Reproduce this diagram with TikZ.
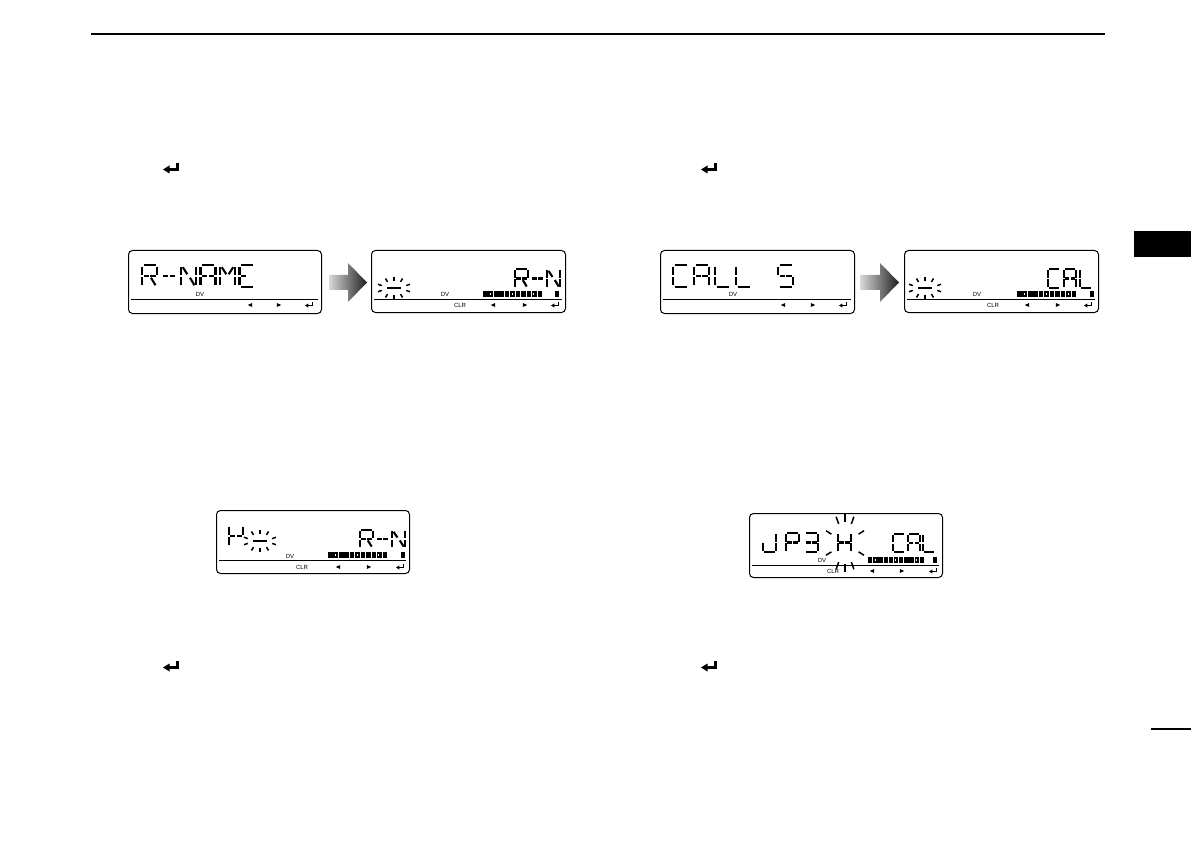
\documentclass[tikz,border=0pt]{standalone}
\usepackage{fontspec}
\setsansfont{Liberation Sans}
\def\lcdsega{(0.1,0)--(0.9,0)}
\def\lcdsegb{(1,0.07)--(1,0.45)}
\def\lcdsegc{(1,0.55)--(1,0.93)}
\def\lcdsegd{(0.1,1)--(0.9,1)}
\def\lcdsege{(0,0.55)--(0,0.93)}
\def\lcdsegf{(0,0.07)--(0,0.45)}
\def\lcdsegg{(0.1,0.5)--(0.44,0.5)}
\def\lcdsegG{(0.56,0.5)--(0.9,0.5)}
\def\lcdsegh{(0.12,0.1)--(0.42,0.42)}
\def\lcdsegi{(0.5,0.07)--(0.5,0.45)}
\def\lcdsegj{(0.88,0.1)--(0.58,0.42)}
\def\lcdsegk{(0.42,0.58)--(0.12,0.9)}
\def\lcdsegl{(0.5,0.55)--(0.5,0.93)}
\def\lcdsegm{(0.6,0.58)--(0.9,0.92)}
\newcommand\lcdch[5]{\begin{scope}[shift={(#1,#2)},xscale=#3,yscale=#4]
  \foreach \s in {#5}{\edef\lcdtmp{\noexpand\draw[segline] \csname lcdseg\s\endcsname;}\lcdtmp}
  \end{scope}}
\newcommand\lcdmeter[4]{%
  \pgfmathsetmacro\mtrpitch{(#2-#1)/11}
  \foreach \q in {0,...,10}{\fill ({#1+\q*\mtrpitch},{#3-2.6}) rectangle ({#1+\q*\mtrpitch+\mtrpitch-0.8},{#3+2.6});}
  \foreach \q in {1,5,9}{\fill[white] ({#1+\q*\mtrpitch+1.4},{#3-1.2}) rectangle ({#1+\q*\mtrpitch+2.4},{#3+1.2});}
  \fill ({#4-2.4},{#3-2.6}) rectangle ({#4+2.4},{#3+2.6});}
\newcommand\blinkrays[7]{%
  \foreach \t in {#7}{\draw[ray] ({#1+#3*cos(\t)},{#2-#4*sin(\t)}) -- ({#1+#5*cos(\t)},{#2-#6*sin(\t)});}}
\tikzset{
  segline/.style={line width=2.1pt},
  lcdbox/.style={draw, line width=1pt, rounded corners=4pt, inner sep=0pt, anchor=north west},
  lcdrule/.style={line width=1pt},
  tinytxt/.style={font=\sffamily\fontsize{6}{7}\selectfont, inner sep=0pt},
  ray/.style={line width=1.5pt},
  blockarrow/.style={left color=black!15, right color=black!88},
  enter/.pic={\fill (0,0)--(6.5,-4)--(6.5,4)--cycle; \fill (5.5,-1.6) rectangle (16,1.6); \fill (13,1.6) rectangle (16.2,-6.5);},
  tril/.pic={\fill (-2.2,0)--(2.2,-2)--(2.2,2)--cycle;},
  trir/.pic={\fill (2.2,0)--(-2.2,-2)--(-2.2,2)--cycle;},
}
\begin{document}
\begin{tikzpicture}[x=1pt,y=-1pt]
\useasboundingbox (0,0) rectangle (1191,842);
% page furniture
\draw[line width=2.2pt] (91,34) -- (1105,34);
\fill (1134,231) rectangle (1191,257);
\draw[line width=1.8pt] (1151,729) -- (1191,729);
% enter icons in the text
\pic at (163,169.5) {enter};
\pic at (701,169.5) {enter};
\pic at (163,667.5) {enter};
\pic at (701,667.5) {enter};

% ---------- Box A ----------
\node[lcdbox, minimum width=193pt, minimum height=63pt] (boxA) at (128,250) {};
\draw[lcdrule] (131,300) -- (318,300);
\lcdch{142}{265}{15}{22}{a,b,f,e,g,G,m}
\lcdch{161.5}{265}{15}{22}{g,G}
\lcdch{181}{265}{15}{22}{f,e,b,c,h,m}
\lcdch{200.5}{265}{15}{22}{a,b,c,e,f,g,G}
\lcdch{220}{265}{15}{22}{f,e,b,c,h,j}
\lcdch{239.5}{265}{15}{22}{a,d,e,f,g}
\node[tinytxt] (dvA) at (200,294) {DV};
\pic at (250,305) {tril};
\pic at (279,305) {trir};
\pic[scale=0.5] at (305,305.5) {enter};
% arrow A->B
\shade[blockarrow] (329,275) -- (348,275) -- (348,263) -- (367,282.5) -- (348,302) -- (348,290) -- (329,290) -- cycle;

% ---------- Box B ----------
\node[lcdbox, minimum width=194pt, minimum height=62pt] (boxB) at (371,250) {};
\draw[lcdrule] (374,300) -- (562,300);
\draw[segline] (387,288) -- (401,288);
\blinkrays{394}{288}{13}{7}{17}{11}{90,60,120,20,160,-20,-160,-60,-120,-90}
\lcdch{515}{269}{13}{19}{a,b,f,e,g,G,m}
\lcdch{531}{269}{13}{19}{g,G}
\lcdch{547}{269}{13}{19}{f,e,b,c,h,m}
\node[tinytxt] (dvB) at (445,294) {DV};
\lcdmeter{483}{543}{294}{557}
\node[tinytxt] (clrB) at (460,305) {CLR};
\pic at (493,305) {tril};
\pic at (525,305) {trir};
\pic[scale=0.5] at (551,305.5) {enter};

% ---------- Box C ----------
\node[lcdbox, minimum width=194pt, minimum height=63pt] (boxC) at (660,250) {};
\draw[lcdrule] (663,300) -- (851,300);
\lcdch{673}{265}{15}{22}{a,d,e,f}
\lcdch{694}{265}{15}{22}{a,b,c,e,f,g,G}
\lcdch{715}{265}{15}{22}{e,f,d}
\lcdch{736}{265}{15}{22}{e,f,d}
\lcdch{778}{265}{15}{22}{a,f,g,G,c,d}
\node[tinytxt] (dvC) at (733,294) {DV};
\pic at (783,305) {tril};
\pic at (813,305) {trir};
\pic[scale=0.5] at (839,305.5) {enter};
% arrow C->D
\shade[blockarrow] (860,275) -- (880,275) -- (880,263) -- (899,282.5) -- (880,302) -- (880,290) -- (860,290) -- cycle;

% ---------- Box D ----------
\node[lcdbox, minimum width=194pt, minimum height=62pt] (boxD) at (904,250) {};
\draw[lcdrule] (907,300) -- (1095,300);
\draw[segline] (918,288) -- (932,288);
\blinkrays{925}{288}{13}{7}{17}{11}{90,60,120,20,160,-20,-160,-60,-120,-90}
\lcdch{1048}{269}{12}{19}{a,d,e,f}
\lcdch{1064}{269}{12}{19}{a,b,c,e,f,g,G}
\lcdch{1080}{269}{12}{19}{e,f,d}
\node[tinytxt] (dvD) at (977,294) {DV};
\lcdmeter{1017}{1077}{294}{1092}
\node[tinytxt] (clrD) at (993,305) {CLR};
\pic at (1027,305) {tril};
\pic at (1058,305) {trir};
\pic[scale=0.5] at (1084,305.5) {enter};

% ---------- Box E ----------
\node[lcdbox, minimum width=193pt, minimum height=63pt] (boxE) at (216,510) {};
\draw[lcdrule] (219,560) -- (406,560);
\lcdch{229}{526}{14}{20}{f,e,g,G,b}
\draw[segline] (253,541) -- (267,541);
\blinkrays{260}{541}{13}{7}{17}{11}{90,60,120,20,160,-20,-160,-60,-120,-90}
\lcdch{360}{530}{13}{18}{a,b,f,e,g,G,m}
\lcdch{376}{530}{13}{18}{g,G}
\lcdch{392}{530}{13}{18}{f,e,b,c,h,m}
\node[tinytxt] (dvE) at (290,556) {DV};
\lcdmeter{328}{388}{555}{403}
\node[tinytxt] (clrE) at (302,567) {CLR};
\pic at (338,567) {tril};
\pic at (369,567) {trir};
\pic[scale=0.5] at (396,567.5) {enter};

% ---------- Box F ----------
\node[lcdbox, minimum width=193pt, minimum height=64pt] (boxF) at (749,513) {};
\draw[lcdrule] (752,565) -- (939,565);
\lcdch{763}{533}{13}{19}{b,c,d,e}
\lcdch{786}{533}{13}{19}{a,b,f,e,g,G}
\lcdch{805}{533}{13}{19}{a,b,c,d,g,G}
\lcdch{838}{533}{13}{19}{f,e,b,c,g,G}
\blinkrays{845}{543}{15}{21}{21}{29}{65,90,115,155,205,25,335,245,270,295}
\lcdch{893}{534}{12}{18}{a,d,e,f}
\lcdch{908}{534}{12}{18}{a,b,c,e,f,g,G}
\lcdch{923}{534}{12}{18}{e,f,d}
\node[tinytxt] (dvF) at (822,560) {DV};
\lcdmeter{868}{925}{560}{935}
\node[tinytxt] (clrF) at (833,571) {CLR};
\pic at (872,571) {tril};
\pic at (902,571) {trir};
\pic[scale=0.5] at (929,571.5) {enter};
\end{tikzpicture}
\end{document}
